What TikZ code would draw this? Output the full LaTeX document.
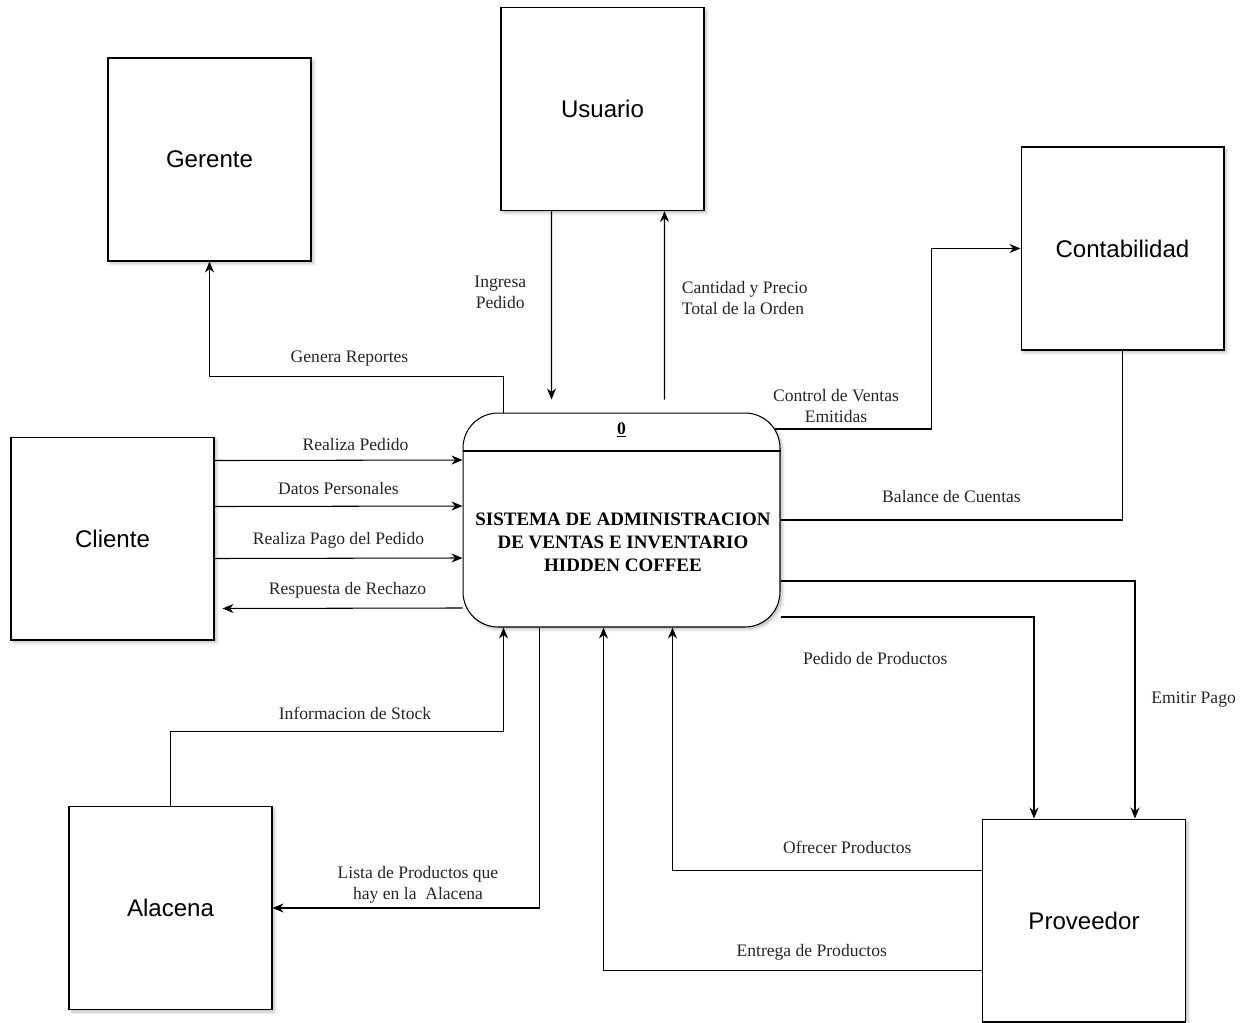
\documentclass[tikz,border=0pt]{standalone}
\usepackage{fontspec}
\setmainfont{Liberation Serif}
\newfontfamily\boxfont{Liberation Sans}
\usetikzlibrary{arrows.meta, positioning, shadows.blur}

\begin{document}
\begin{tikzpicture}[
    x=0.02cm, y=-0.02cm,
    entity/.style={rectangle, draw, line width=0.6pt, minimum width=4.06cm, minimum height=4.06cm, inner sep=0pt, fill=white, font=\boxfont\fontsize{13.7}{16}\selectfont, blur shadow={shadow xshift=0.05cm, shadow yshift=-0.05cm, shadow opacity=25, shadow blur radius=0.06cm}},
    process/.style={rectangle, draw, line width=0.6pt, rounded corners=0.7cm, minimum width=6.34cm, minimum height=4.28cm, inner sep=0pt, fill=white, blur shadow={shadow xshift=0.05cm, shadow yshift=-0.05cm, shadow opacity=25, shadow blur radius=0.06cm}},
    lbl/.style={font=\fontsize{10}{12}\selectfont, align=center, text=black!85},
    flow/.style={-{Stealth[length=2.2mm, width=1.8mm]}, line width=0.6pt},
    plainflow/.style={line width=0.6pt},
]
\useasboundingbox (0,0) rectangle (1245,1022);

% External entities
\node[entity] (ger) at (209.5,159.5) {Gerente};
\node[entity] (usu) at (602.5,109) {Usuario};
\node[entity] (con) at (1122.5,248.5) {Contabilidad};
\node[entity] (cli) at (112.5,538.5) {Cliente};
\node[entity] (ala) at (170.5,908) {Alacena};
\node[entity] (pro) at (1084,920.5) {Proveedor};

% Central process
\node[process] (sys) at (621.5,520) {};
\coordinate (sep) at (621.5,451);
\draw[line width=0.6pt] (sep -| sys.west) -- (sep -| sys.east);
\node[font=\bfseries\fontsize{10}{12}\selectfont] (num) at (621.5,430) {\underline{0}};
\node[font=\bfseries\fontsize{10.8}{13}\selectfont, align=center] (systxt) at (623,542)
    {SISTEMA DE ADMINISTRACION\\DE VENTAS E INVENTARIO\\HIDDEN COFFEE};

% Gerente and Usuario
\draw[flow] ([xshift=-2.36cm]sys.north) |- node[lbl, pos=0.75, above=2pt, xshift=-0.14cm] {Genera Reportes} ([yshift=-2.3cm]ger.south) -- (ger.south);
\draw[flow] ([xshift=-1.02cm]usu.south) -- node[lbl, pos=0.43, left=0.38cm] {Ingresa\\Pedido} ([xshift=-1.4cm, yshift=0.26cm]sys.north);
\draw[flow] ([xshift=0.86cm, yshift=0.26cm]sys.north) -- node[lbl, pos=0.54, right=0.22cm, align=left] {Cantidad y Precio\\Total de la Orden} ([xshift=1.24cm]usu.south);

% Contabilidad
\draw[flow] ([xshift=-0.12cm, yshift=1.82cm]sys.east) -| node[lbl, pos=0.25, above, xshift=-0.34cm] {Control de Ventas\\Emitidas} ([xshift=-1.78cm]con.west) -- (con.west);
\draw[plainflow] (con.south) |- node[lbl, pos=0.75, above=6pt] {Balance de Cuentas} (sys.east);

% Cliente
\draw[flow] ([yshift=1.56cm]cli.east) -- node[lbl, above=2pt, xshift=0.34cm] {Realiza Pedido} ([yshift=1.2cm]sys.west);
\draw[flow] ([yshift=0.64cm]cli.east) -- node[lbl, above=3pt] {Datos Personales} ([yshift=0.28cm]sys.west);
\draw[flow] ([yshift=-0.4cm]cli.east) -- node[lbl, above=2pt] {Realiza Pago del Pedido} ([yshift=-0.76cm]sys.west);
\draw[flow] ([yshift=-1.76cm]sys.west) -- node[lbl, above=2pt, xshift=0.1cm] {Respuesta de Rechazo} ([xshift=0.16cm, yshift=-1.4cm]cli.east);

% Alacena
\draw[flow] (ala.north) |- node[lbl, pos=0.75, above=3pt, xshift=0.36cm] {Informacion de Stock} ([xshift=-2.36cm, yshift=-2.08cm]sys.south) -- ([xshift=-2.36cm]sys.south);
\draw[flow] ([xshift=-1.64cm]sys.south) |- node[lbl, pos=0.75, above=-1pt, xshift=0.24cm] {Lista de Productos que\\hay en la\ \ Alacena} (ala.east);

% Proveedor
\draw[flow] ([yshift=-1.22cm]sys.east) -| node[lbl, pos=0.75, right=0.2cm] {Emitir Pago} ([xshift=1.02cm]pro.north);
\draw[flow] ([yshift=-1.94cm]sys.east) -| node[lbl, pos=0.25, below=0.58cm, xshift=-0.64cm] {Pedido de Productos} ([xshift=-1cm]pro.north);
\draw[flow] ([yshift=1cm]pro.west) -| node[lbl, pos=0.25, above=6pt, xshift=0.4cm] {Ofrecer Productos} ([xshift=1.02cm]sys.south);
\draw[flow] ([yshift=-1cm]pro.west) -| node[lbl, pos=0.25, above=2pt, xshift=0.38cm] {Entrega de Productos} ([xshift=-0.36cm]sys.south);

\end{tikzpicture}
\end{document}
